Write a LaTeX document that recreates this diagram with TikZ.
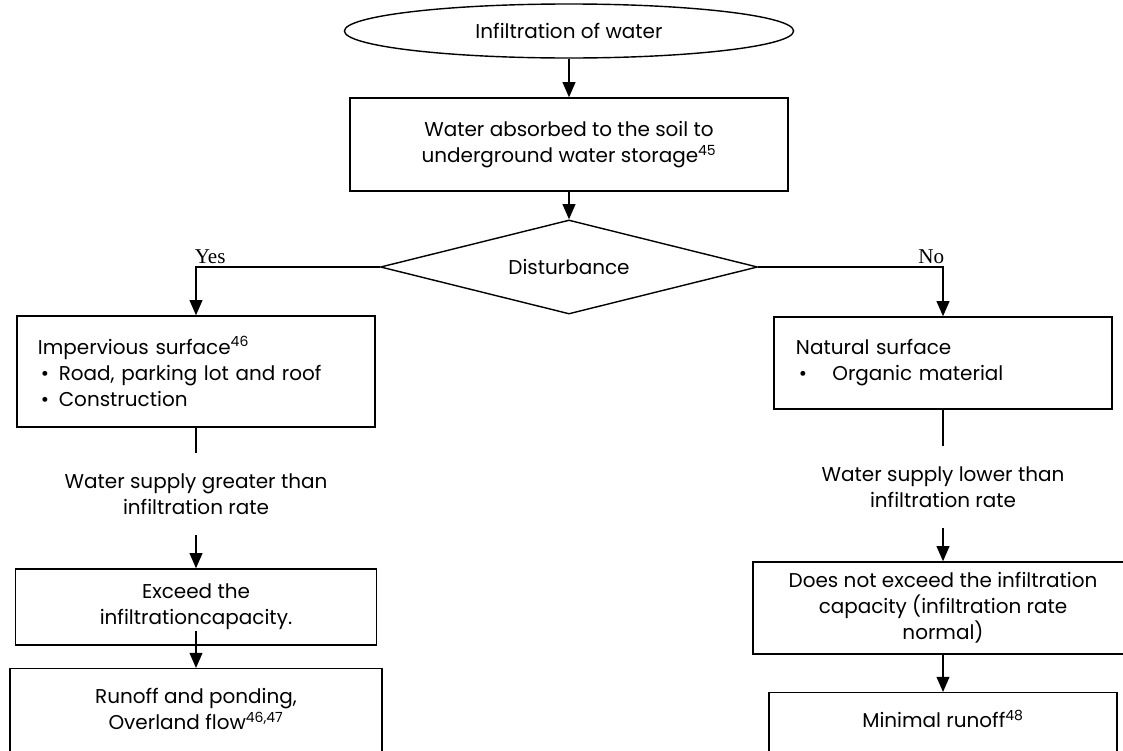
\documentclass[tikz,border=0pt]{standalone}
\usepackage{fontspec}
\setmainfont{Poppins}
\newfontfamily\yesnofont{Liberation Serif}
\usetikzlibrary{positioning,arrows.meta,shapes.geometric}

\tikzset{
  box/.style={draw, line width=1pt, rectangle, inner sep=0pt, align=center},
  lbl/.style={inner sep=0pt, align=center},
  conn/.style={line width=1.2pt},
  arr/.style={conn, -{Triangle[length=0.38cm, width=0.32cm]}},
  yesno/.style={inner sep=1pt, font=\yesnofont\fontsize{15}{17}\selectfont},
}

\begin{document}
\begin{tikzpicture}[x=0.025cm, y=-0.025cm, font=\fontsize{14.2}{18.5}\selectfont]
\useasboundingbox (0,0) rectangle (1123,750);

\node[ellipse, draw, line width=1pt, inner sep=0pt, minimum width=11.225cm, minimum height=1.35cm] (start) at (569,31) {Infiltration of water};
\node[box, minimum width=10.95cm, minimum height=2.325cm] (absorb) at (569,144.5) {Water absorbed to the soil to\\underground water storage\textsuperscript{45}};
\node[diamond, shape aspect=4, draw, line width=1pt, inner sep=0pt, minimum width=9.425cm, minimum height=2.35cm] (dist) at (569,267) {Disturbance};

% yes branch
\node[box, minimum width=8.95cm, minimum height=2.775cm, text width=7.9cm, align=left] (imperv) at (196,371.5) {Impervious surface\textsuperscript{46}\\\hspace*{2pt}\textbullet\hspace{7pt}Road, parking lot and roof\\\hspace*{2pt}\textbullet\hspace{7pt}Construction};
\node[lbl, inner ysep=0.5cm] (greater) at (196,494) {Water supply greater than\\infiltration rate};
\node[box, minimum width=9.025cm, minimum height=1.9cm] (exceed) at (196,607) {Exceed the\\infiltrationcapacity.};
\node[box, anchor=north, minimum width=9.3cm, minimum height=2.6cm] (runoff) at (196,668) {};
\node[lbl, below=0.5cm of runoff.north] (runofftext) {Runoff and ponding,\\Overland flow\textsuperscript{46,47}};

% no branch
\node[box, minimum width=8.45cm, minimum height=2.3cm, text width=7.35cm, align=left] (natural) at (943,363) {Natural surface\\\hspace*{2pt}\textbullet\hspace{18pt}Organic material};
\node[lbl, inner ysep=0.5cm] (lower) at (943,487) {Water supply lower than\\infiltration rate};
\node[box, minimum width=9.5cm, minimum height=2.3cm] (notexceed) at (943,608) {Does not exceed the infiltration\\capacity (infiltration rate\\normal)};
\node[box, anchor=north, minimum width=8.7cm, minimum height=2cm] (minimal) at (943,692) {};
\node[lbl, below=0.45cm of minimal.north] (minimaltext) {Minimal runoff\textsuperscript{48}};

\draw[arr] (start) -- (absorb);
\draw[arr] (absorb) -- (dist);

\coordinate (ycorner) at (dist.west -| imperv.north);
\coordinate (ncorner) at (dist.east -| natural.north);
\draw[arr] (dist.west) -- (ycorner) -- (imperv.north);
\draw[arr] (dist.east) -- (ncorner) -- (natural.north);
\node[yesno, anchor=south west, xshift=-2pt, yshift=1pt] (yes) at (ycorner) {Yes};
\node[yesno, anchor=south east, xshift=2pt, yshift=1pt] (no) at (ncorner) {No};

\draw[conn] (imperv) -- (greater);
\draw[arr] (greater) -- (exceed);
\draw[arr] ([yshift=0.375cm]exceed.south) -- (runoff.north);

\draw[conn] (natural) -- (lower);
\draw[arr] (lower) -- (notexceed);
\draw[arr] (notexceed) -- (minimal.north);
\end{tikzpicture}
\end{document}
